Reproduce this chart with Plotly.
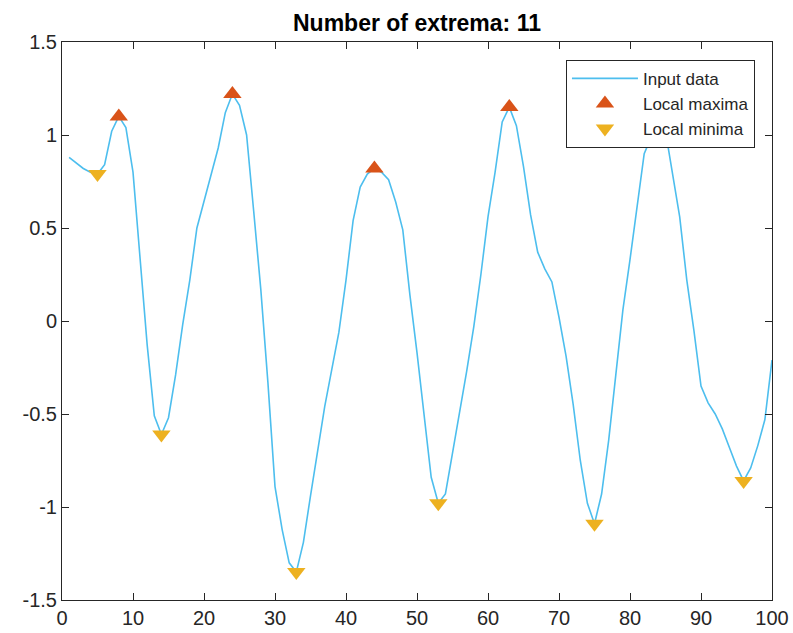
import plotly.graph_objects as go

x_vals = list(range(1, 101))
y_vals = [
    0.88, 0.85, 0.82, 0.80, 0.79, 0.84, 1.02, 1.10, 1.04, 0.80,
    0.33, -0.13, -0.51, -0.61, -0.52, -0.29, -0.02, 0.22, 0.50, 0.64,
    0.78, 0.93, 1.12, 1.22, 1.16, 1.00, 0.59, 0.17, -0.33, -0.89,
    -1.12, -1.30, -1.35, -1.19, -0.94, -0.70, -0.46, -0.26, -0.06, 0.22,
    0.54, 0.72, 0.79, 0.82, 0.80, 0.76, 0.64, 0.49, 0.14, -0.17,
    -0.50, -0.84, -0.98, -0.93, -0.71, -0.50, -0.27, -0.03, 0.25, 0.56,
    0.80, 1.07, 1.15, 1.05, 0.83, 0.57, 0.37, 0.28, 0.21, 0.02,
    -0.19, -0.45, -0.75, -0.98, -1.09, -0.93, -0.64, -0.29, 0.06, 0.33,
    0.63, 0.90, 0.99, 1.06, 1.02, 0.78, 0.56, 0.22, -0.05, -0.35,
    -0.44, -0.50, -0.58, -0.68, -0.78, -0.86, -0.79, -0.67, -0.53, -0.21,
]
max_x = [8, 24, 44, 63, 84]
min_x = [5, 14, 33, 53, 75, 96]
max_y = [y_vals[i - 1] for i in max_x]
min_y = [y_vals[i - 1] for i in min_x]

x_ticks = list(range(0, 101, 10))
y_ticks = [-1.5, -1, -0.5, 0, 0.5, 1, 1.5]
y_tick_text = ["-1.5", "-1", "-0.5", "0", "0.5", "1", "1.5"]

axis_color = "#262626"
font_family = "Liberation Sans, Arial, sans-serif"

fig = go.Figure()
fig.add_trace(go.Scatter(x=x_vals, y=y_vals, mode="lines", name="Input data",
                         line=dict(color="#4DBEEE", width=1.6)))
fig.add_trace(go.Scatter(x=max_x, y=max_y, mode="markers", name="Local maxima",
                         marker=dict(symbol="triangle-up", size=16, color="#D95319")))
fig.add_trace(go.Scatter(x=min_x, y=min_y, mode="markers", name="Local minima",
                         marker=dict(symbol="triangle-down", size=16, color="#EDB120")))

fig.update_layout(
    width=793, height=633,
    margin=dict(l=62, r=21, t=42, b=33, autoexpand=False),
    paper_bgcolor="white", plot_bgcolor="white",
    font=dict(family=font_family, color=axis_color),
    title=dict(text="<b>Number of extrema: 11</b>", x=(62 + 772) / 2 / 793, xanchor="center",
               y=1 - 23 / 633, yanchor="middle",
               font=dict(size=23, color="#000000", family=font_family)),
    showlegend=True,
    legend=dict(x=0.976, y=0.968, xanchor="right", yanchor="top",
                bgcolor="white", bordercolor=axis_color, borderwidth=1,
                font=dict(size=17, color=axis_color, family=font_family),
                tracegroupgap=0, itemwidth=66),
)
fig.update_xaxes(range=[0, 100], tickvals=x_ticks, ticks="inside", ticklen=7,
                 showline=True, linecolor=axis_color, linewidth=1, mirror="ticks",
                 tickcolor=axis_color, showgrid=False, zeroline=False, automargin=False,
                 tickfont=dict(size=20, color=axis_color))
fig.update_yaxes(range=[-1.5, 1.5], tickvals=y_ticks, ticktext=y_tick_text, ticks="inside", ticklen=7,
                 showline=True, linecolor=axis_color, linewidth=1, mirror="ticks",
                 tickcolor=axis_color, showgrid=False, zeroline=False, automargin=False,
                 tickfont=dict(size=20, color=axis_color))

fig.write_html("out.html")
